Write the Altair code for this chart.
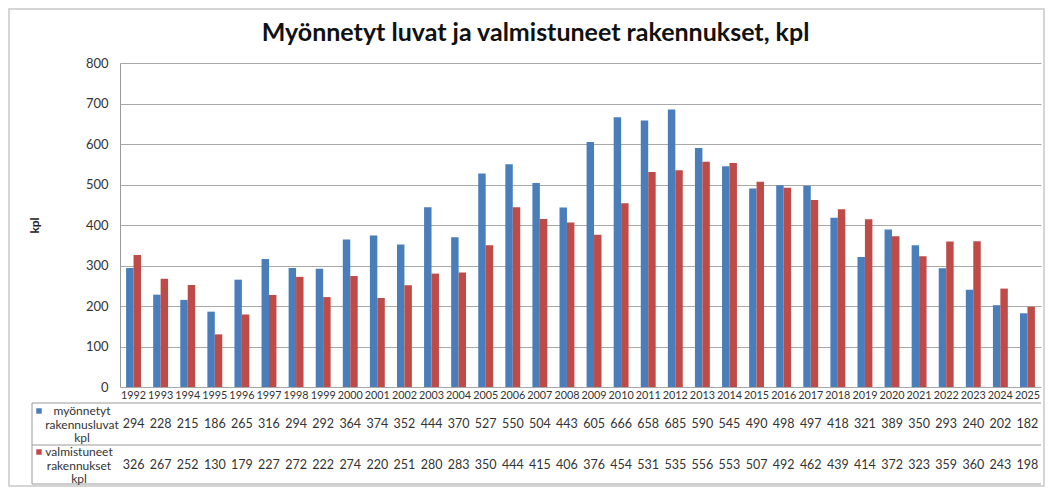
import altair as alt
import pandas as pd

years = [str(y) for y in range(1992, 2026)]
permits = [294, 228, 215, 186, 265, 316, 294, 292, 364, 374, 352, 444, 370, 527, 550,
           504, 443, 605, 666, 658, 685, 590, 545, 490, 498, 497, 418, 321, 389, 350,
           293, 240, 202, 182]
completed = [326, 267, 252, 130, 179, 227, 272, 222, 274, 220, 251, 280, 283, 350, 444,
             415, 406, 376, 454, 531, 535, 556, 553, 507, 492, 462, 439, 414, 372, 323,
             359, 360, 243, 198]
series_names = ["myönnetyt rakennusluvat kpl", "valmistuneet rakennukset kpl"]
colors = ["#4a7ebb", "#be4b48"]
y_ticks = [0, 100, 200, 300, 400, 500, 600, 700, 800]

rows = []
for i, y in enumerate(years):
    rows.append({"year": y, "series": series_names[0], "value": permits[i]})
    rows.append({"year": y, "series": series_names[1], "value": completed[i]})
df = pd.DataFrame(rows)
df_years = pd.DataFrame({"year": years})
df_one = pd.DataFrame({"k": [0]})

W, H = 921, 324
GRID = "#a8a8a8"
LINE = "#9a9a9a"
FONT = "Lato"

xscale = alt.Scale(domain=years, paddingInner=0.45, paddingOuter=0.225)

bars = alt.Chart(df).mark_bar().encode(
    x=alt.X("year:N", scale=xscale,
            axis=alt.Axis(title=None, labels=False, grid=False, tickBand="extent",
                          tickSize=97, tickColor=LINE, domainColor=LINE, ticks=True)),
    xOffset=alt.XOffset("series:N", sort=series_names),
    y=alt.Y("value:Q", scale=alt.Scale(domain=[0, 800]),
            axis=alt.Axis(title="kpl", values=y_ticks, ticks=False, labelPadding=12,
                          labelFontSize=13, labelColor="#333333", labelFont=FONT,
                          gridColor=GRID, domainColor=LINE,
                          titleFont=FONT, titleFontSize=12, titleFontWeight="bold",
                          titleColor="#222222", titleX=-86, titleY=H / 2,
                          titleAlign="center", titleBaseline="middle")),
    color=alt.Color("series:N", scale=alt.Scale(domain=series_names, range=colors),
                    legend=None),
)

year_text = alt.Chart(df_years).mark_text(
    fontSize=10.8, font=FONT, color="#333333", baseline="middle"
).encode(
    x=alt.X("year:N", scale=xscale, axis=None),
    y=alt.value(332.5),
    text="year:N",
)

row1_text = alt.Chart(df).transform_filter(
    alt.datum.series == series_names[0]
).mark_text(fontSize=12.5, font=FONT, color="#333333", baseline="middle").encode(
    x=alt.X("year:N", scale=xscale, axis=None),
    y=alt.value(361),
    text="value:Q",
)

row2_text = alt.Chart(df).transform_filter(
    alt.datum.series == series_names[1]
).mark_text(fontSize=12.5, font=FONT, color="#333333", baseline="middle").encode(
    x=alt.X("year:N", scale=xscale, axis=None),
    y=alt.value(401.5),
    text="value:Q",
)

base = alt.Chart(df_one)

def hline(yv):
    return base.mark_rule(color=LINE, strokeWidth=1).encode(
        x=alt.value(-88), x2=alt.value(W), y=alt.value(yv))

lines = [hline(340), hline(382), hline(421),
         base.mark_rule(color=LINE, strokeWidth=1).encode(
             x=alt.value(-88), y=alt.value(340), y2=alt.value(421))]

label1 = base.mark_text(fontSize=12, font=FONT, color="#333333", align="center",
                        baseline="middle", lineHeight=13.5).encode(
    x=alt.value(-38), y=alt.value(348),
    text=alt.value(["myönnetyt", "rakennusluvat", "kpl"]))
label2 = base.mark_text(fontSize=12, font=FONT, color="#333333", align="center",
                        baseline="middle", lineHeight=13.5).encode(
    x=alt.value(-41), y=alt.value(389),
    text=alt.value(["valmistuneet", "rakennukset", "kpl"]))
sq1 = base.mark_square(size=30, opacity=1, color=colors[0]).encode(
    x=alt.value(-81), y=alt.value(348))
sq2 = base.mark_square(size=30, opacity=1, color=colors[1]).encode(
    x=alt.value(-81), y=alt.value(389))

frame = base.mark_rect(filled=False, stroke="#c8c8c8", strokeWidth=1.5).encode(
    x=alt.value(-111), x2=alt.value(W + 3), y=alt.value(-54), y2=alt.value(423))

chart = alt.layer(
    frame, bars, year_text, row1_text, row2_text, *lines, label1, label2, sq1, sq2
).properties(
    width=W, height=H,
    title=alt.TitleParams("Myönnetyt luvat ja valmistuneet rakennukset, kpl",
                          font=FONT, fontSize=25, fontWeight="bold", color="#111111",
                          anchor="middle", dx=-45, offset=0, dy=38),
    autosize=alt.AutoSizeParams(type="none"),
    padding={"left": 112, "top": 55, "right": 4, "bottom": 100},
).configure_view(stroke=None)

chart.save("out.html", embed_options={"renderer": "svg", "actions": False})
